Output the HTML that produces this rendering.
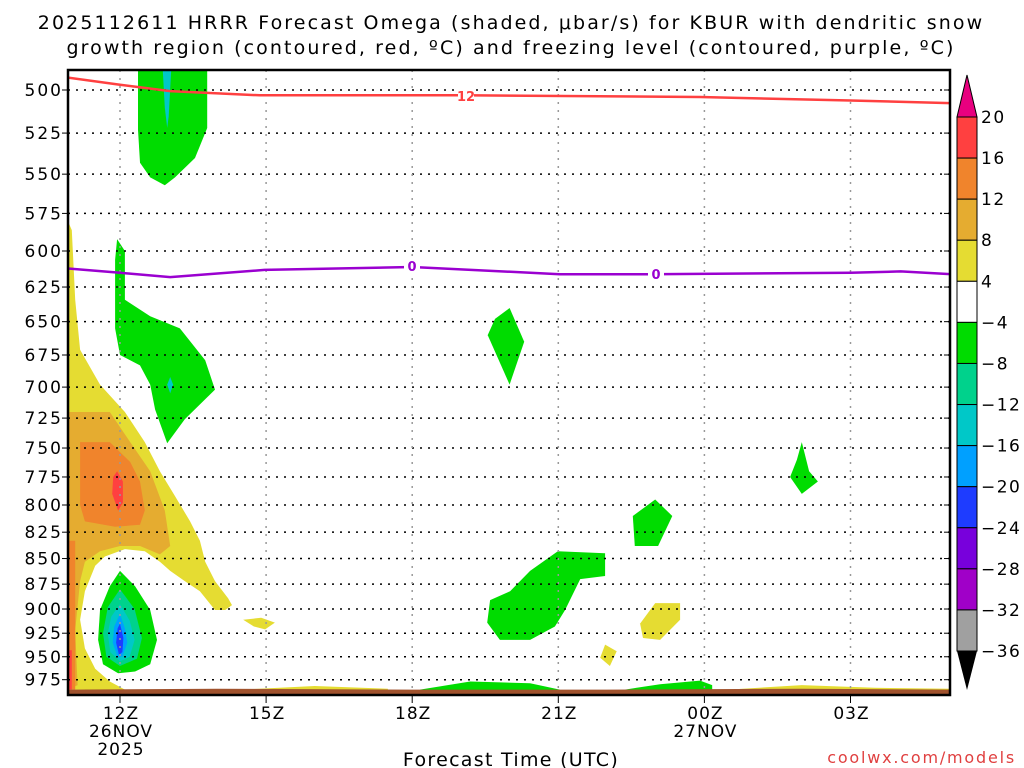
<!DOCTYPE html>
<html><head><meta charset="utf-8">
<style>
html,body{margin:0;padding:0;background:#fff;}
svg{display:block;font-family:"DejaVu Sans","Liberation Sans",sans-serif;}
</style></head>
<body>
<svg id="chart" width="1024" height="768" viewBox="0 0 1024 768" xmlns="http://www.w3.org/2000/svg">
<text x="511" y="29" font-size="19" letter-spacing="2.1" text-anchor="middle">2025112611 HRRR Forecast Omega (shaded, μbar/s) for KBUR with dendritic snow</text>
<text x="511" y="54" font-size="19" letter-spacing="2.1" text-anchor="middle">growth region (contoured, red, ºC) and freezing level (contoured, purple, ºC)</text>
<defs><clipPath id="plotclip"><rect x="68" y="70" width="882" height="625"/></clipPath></defs>
<g id="fills" clip-path="url(#plotclip)"></g>
<g id="grid"></g>
<g id="lines" clip-path="url(#plotclip)"></g>
<rect x="68" y="70" width="882" height="625" fill="none" stroke="#000" stroke-width="2.5"/>
<g id="axes"></g>
<g id="cbar"></g>
<text x="511" y="766" font-size="19" letter-spacing="1.3" text-anchor="middle">Forecast Time (UTC)</text>
<text x="1016" y="763" font-size="16" letter-spacing="1.8" text-anchor="end" fill="#e04040">coolwx.com/models</text>
</svg>
<script>
const pressureTicks=[500,525,550,575,600,625,650,675,700,725,750,775,800,825,850,875,900,925,950,975];
const timeTicks=[12,15,18,21,24,27];
const timeLabels=["12Z","15Z","18Z","21Z","00Z","03Z"];
const cbarLevels=[20,16,12,8,4,-4,-8,-12,-16,-20,-24,-28,-32,-36];
const cbarColors=["#ff4040","#f0842c","#e5ac30","#e5dc32","#ffffff","#00dc00","#00d28c","#00c8c8","#00a0ff","#1e3cff","#7800dc","#a000c8","#a0a0a0"];
// contour lines (hour, hPa)
const dgzHours=[10.93,12,13.03,14.87,18,19,23.91,27,29.05];
const dgzPress=[493,497,500.6,503,503,503,504,506,507.5];
const frzHours=[10.93,12,13.03,14.97,18,21.03,22.88,27,28.03,29.05];
const frzPress=[612,615,618,613,611,616,616,615,614,616];
// shaded regions: [color, hours[], pressures[]]
const regions=[
 ["#e5dc32",[10.93,11.01,11.08,11.18,11.59,12.1,12.51,12.82,13.13,13.44,13.64,13.75,13.95,14.22,14.30,14.16,13.95,13.64,13.33,13.03,12.82,12.51,12.1,11.69,11.49,11.28,11.18,11.28,11.49,11.79,12.1,10.93],
  [580,586,634,671,698,720,745,770,792,815,833,853,872,889,896,901,901,882,872,862,853,843,841,848,857,882,911,941,963,977,986,986]],
 ["#e5ac30",[10.93,11.79,12.21,12.62,12.92,13.03,12.82,12.41,12.0,11.59,11.28,11.18,11.08,11.13,10.93],
  [720,720,745,770,805,838,846,838,838,843,853,872,922,981,986]],
 ["#f0842c",[11.18,11.79,12.21,12.41,12.51,12.41,11.90,11.28,11.18],[745,745,762,779,805,818,820,815,800]],
 ["#ff4040",[11.94,12.06,12.06,11.96,11.84,11.86],[770,779,798,805,790,775]],
 ["#f0842c",[10.93,11.08,11.08,10.93],[833,833,986,986]],
 ["#ff4040",[10.93,11.01,11.01,10.93],[943,943,986,986]],
 ["#ffffff",[12.0,12.62,13.03,13.23,13.03,12.82,12.41,11.79,11.49,11.38,11.42,11.59],[848,853,867,891,943,969,979,977,954,922,887,862]],
 ["#00dc00",[12.0,12.31,12.62,12.76,12.62,12.31,11.96,11.65,11.55,11.59,11.79],[862,877,901,932,958,966,968,958,932,901,877]],
 ["#00d28c",[12.0,12.3,12.45,12.35,12.0,11.72,11.65,11.75],[880,900,930,952,960,950,925,898]],
 ["#00c8c8",[12.0,12.2,12.3,12.2,12.0,11.8,11.75,11.82],[895,912,932,950,955,945,925,908]],
 ["#00a0ff",[12.0,12.1,12.15,12.05,11.95,11.85,11.88],[905,920,935,950,950,935,918]],
 ["#1e3cff",[12.0,12.07,12.05,11.98,11.92,11.95],[915,930,945,948,935,920]],
 ["#00dc00",[12.37,13.79,13.79,13.54,13.13,12.92,12.62,12.41,12.37],[480,480,522,540,552,557,552,543,523]],
 ["#00c8c8",[12.86,13.07,13.0,12.97,12.92],[480,480,515,522,510]],
 ["#00dc00",[11.94,12.1,12.1,12.62,13.23,13.75,13.95,13.33,12.97,12.72,12.62,12.41,12.0,11.9,11.9],[592,600,634,646,655,679,702,726,746,718,698,683,675,655,606]],
 ["#00c8c8",[13.03,13.09,13.03,12.97],[692,698,705,698]],
 ["#00dc00",[20.0,20.3,20.0,19.55,19.7],[640,665,698,660,648]],
 ["#00dc00",[26.0,26.15,26.33,26.0,25.76,25.9],[745,770,779,790,775,760]],
 ["#00dc00",[22.99,23.34,23.05,22.57,22.53],[795,810,838,838,810]],
 ["#00dc00",[20.99,21.96,21.96,21.45,21.14,20.93,20.42,19.80,19.54,19.60,20.01,20.42],[843,845,867,870,901,918,932,932,914,891,882,862]],
 ["#e5dc32",[22.99,23.50,23.50,23.09,22.74,22.68],[894,894,911,932,930,915]],
 ["#e5dc32",[21.96,22.2,22.06,21.86],[937,944,960,951]],
 ["#e5dc32",[14.53,14.9,15.18,14.98,14.75],[911,909,914,921,918]],
 ["#e5dc32",[14.5,16.0,17.5,17.5,14.5],[986,982,985,990,990]],
 ["#e5dc32",[24.5,26.0,27.5,29.05,29.05,24.5],[986,981,984,985,990,990]],
 ["#00dc00",[18.16,19.19,20.42,21.03,21.03,18.16],[986,977,979,986,990,990]],
 ["#00dc00",[22.37,23.09,23.91,24.16,24.16,22.37],[986,980,976,981,990,990]],
 ["#a0522d",[10.9,14.0,18.0,22.0,26.0,29.1,29.1,10.9],[986,985,986,986,985,986,1000,1000]]
];
const NS="http://www.w3.org/2000/svg";
function X(h){return 120+(h-12)*48.7;}
function Y(p){return 90+883*Math.log(p/500);}
function mk(tag,attrs,parent){const e=document.createElementNS(NS,tag);for(const k in attrs)e.setAttribute(k,attrs[k]);parent.appendChild(e);return e;}
const fills=document.getElementById('fills');
regions.forEach((r,i)=>{
  const pts=r[1].map((h,j)=>X(h).toFixed(1)+','+Y(r[2][j]).toFixed(1)).join(' ');
  const el=mk('polygon',{points:pts,fill:r[0]},fills);
  
  
});
const grid=document.getElementById('grid');
const axes=document.getElementById('axes');
pressureTicks.forEach(p=>{
  const y=Y(p);
  const g=mk('line',{x1:68,x2:950,y1:y,y2:y,stroke:'#000','stroke-width':1.5,'stroke-dasharray':'2 6'},grid);
  
  
  const t=mk('text',{x:63,y:y+6,'font-size':17,'letter-spacing':2,'text-anchor':'end'},axes);
  t.textContent=p;
  
  
  mk('line',{x1:62,x2:68,y1:y,y2:y,stroke:'#000','stroke-width':1},axes);
  mk('line',{x1:944,x2:950,y1:y,y2:y,stroke:'#000','stroke-width':1},axes);
});
timeTicks.forEach((h,i)=>{
  const x=X(h);
  const g=mk('line',{x1:x,x2:x,y1:70,y2:695,stroke:'#999','stroke-width':1.5,'stroke-dasharray':'2 6'},grid);
  
  
  mk('line',{x1:x,x2:x,y1:695,y2:703,stroke:'#000','stroke-width':1},axes);
  const t=mk('text',{x:x+1,y:719,'font-size':17,'letter-spacing':1,'text-anchor':'middle'},axes);
  t.textContent=timeLabels[i];
  
  
});
[[12,"26NOV",737],[12,"2025",755],[24,"27NOV",737]].forEach(d=>{
  const t=mk('text',{x:X(d[0])+1,y:d[2],'font-size':17,'letter-spacing':1,'text-anchor':'middle'},axes);
  t.textContent=d[1];
  
  
});
const lines=document.getElementById('lines');
function drawLine(hs,ps,color,name){
  const d=hs.map((h,j)=>(j?'L':'M')+X(h).toFixed(1)+','+Y(ps[j]).toFixed(1)).join(' ');
  const el=mk('path',{d:d,fill:'none',stroke:color,'stroke-width':2.5},lines);
  
  
}
drawLine(dgzHours,dgzPress,'#ff4040','dgz-12c-line');
drawLine(frzHours,frzPress,'#9a00d0','freezing-level-line');
function lineLabel(x,y,txt,color,name){
  mk('rect',{x:x-8,y:y-8,width:16,height:15,fill:'#fff'},lines);
  const t=mk('text',{x:x,y:y+5,'font-size':13,'font-weight':'bold','text-anchor':'middle',fill:color},lines);
  t.textContent=txt;
  
  
}
lineLabel(466,96,'12','#ff4040','dgz-line-label');
lineLabel(412,266,'0','#9a00d0','freezing-label-1');
lineLabel(656,274,'0','#9a00d0','freezing-label-2');
// colorbar
const cb=document.getElementById('cbar');
const cy0=117,cstep=(651-117)/13,cx=957,cw=20;
mk('polygon',{points:`${cx},${cy0} ${cx+cw},${cy0} ${cx+cw/2},75`,fill:'#e8007f',stroke:'#000','stroke-width':1},cb);
cbarColors.forEach((c,i)=>{
  const r=mk('rect',{x:cx,y:cy0+i*cstep,width:cw,height:cstep,fill:c,stroke:'#000','stroke-width':1},cb);
  
  
});
mk('polygon',{points:`${cx},${cy0+13*cstep} ${cx+cw},${cy0+13*cstep} ${cx+cw/2},690`,fill:'#000'},cb);
cbarLevels.forEach((v,i)=>{
  const t=mk('text',{x:981,y:cy0+i*cstep+6,'font-size':17,'letter-spacing':1.5},cb);
  t.textContent=v<0?'\u2212'+Math.abs(v):String(v);
  
  
});
</script>
</body></html>
